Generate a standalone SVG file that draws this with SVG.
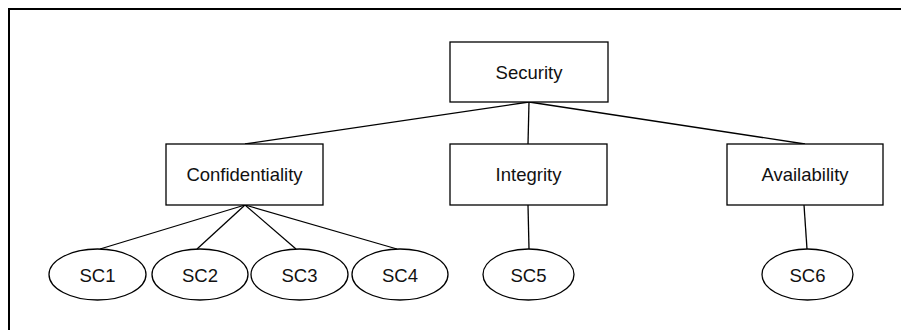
<svg xmlns="http://www.w3.org/2000/svg" width="901" height="330" viewBox="0 0 901 330">
<style>
.box{fill:#fff;stroke:#000;stroke-width:1.3}
.ell{fill:#fff;stroke:#000;stroke-width:1.3}
.lbl{font-family:"Liberation Sans",Arial,sans-serif;font-size:18.5px;fill:#111;text-anchor:middle}
.edge{stroke:#000;stroke-width:1.3;fill:none}
.frame{stroke:#000;stroke-width:2;fill:none}
</style>
<rect width="901" height="330" fill="#fff"/>
<path class="frame" d="M9,330 V9 H901"/>
<g id="connectors">
<line class="edge" x1="529" y1="102" x2="245" y2="144"/>
<line class="edge" x1="529" y1="102" x2="528" y2="144"/>
<line class="edge" x1="529" y1="102" x2="805" y2="144"/>
<line class="edge" x1="245" y1="205" x2="100" y2="249"/>
<line class="edge" x1="245" y1="205" x2="197" y2="249"/>
<line class="edge" x1="245" y1="205" x2="296" y2="249"/>
<line class="edge" x1="245" y1="205" x2="397" y2="249"/>
<line class="edge" x1="528" y1="205" x2="529" y2="249"/>
<line class="edge" x1="804" y1="205" x2="807" y2="249"/>
</g>
<g id="security"><rect class="box" x="450" y="42" width="158" height="60"/><text class="lbl" x="529" y="79">Security</text></g>
<g id="confidentiality"><rect class="box" x="166" y="144" width="157" height="61"/><text class="lbl" x="244.5" y="181">Confidentiality</text></g>
<g id="integrity"><rect class="box" x="450" y="144" width="157" height="61"/><text class="lbl" x="528.5" y="181">Integrity</text></g>
<g id="availability"><rect class="box" x="727" y="144" width="156" height="61"/><text class="lbl" x="805" y="181">Availability</text></g>
<g id="sc1"><ellipse class="ell" cx="97.5" cy="274.5" rx="48.5" ry="25.5"/><text class="lbl" x="97.5" y="282">SC1</text></g>
<g id="sc2"><ellipse class="ell" cx="200" cy="274.5" rx="48" ry="25.5"/><text class="lbl" x="200" y="282">SC2</text></g>
<g id="sc3"><ellipse class="ell" cx="299.5" cy="274.5" rx="48.5" ry="25.5"/><text class="lbl" x="299.5" y="282">SC3</text></g>
<g id="sc4"><ellipse class="ell" cx="400" cy="274.5" rx="48" ry="25.5"/><text class="lbl" x="400" y="282">SC4</text></g>
<g id="sc5"><ellipse class="ell" cx="528.5" cy="274.5" rx="45.5" ry="25.5"/><text class="lbl" x="528.5" y="282">SC5</text></g>
<g id="sc6"><ellipse class="ell" cx="807.5" cy="274.5" rx="45.5" ry="25.5"/><text class="lbl" x="807.5" y="282">SC6</text></g>
</svg>
